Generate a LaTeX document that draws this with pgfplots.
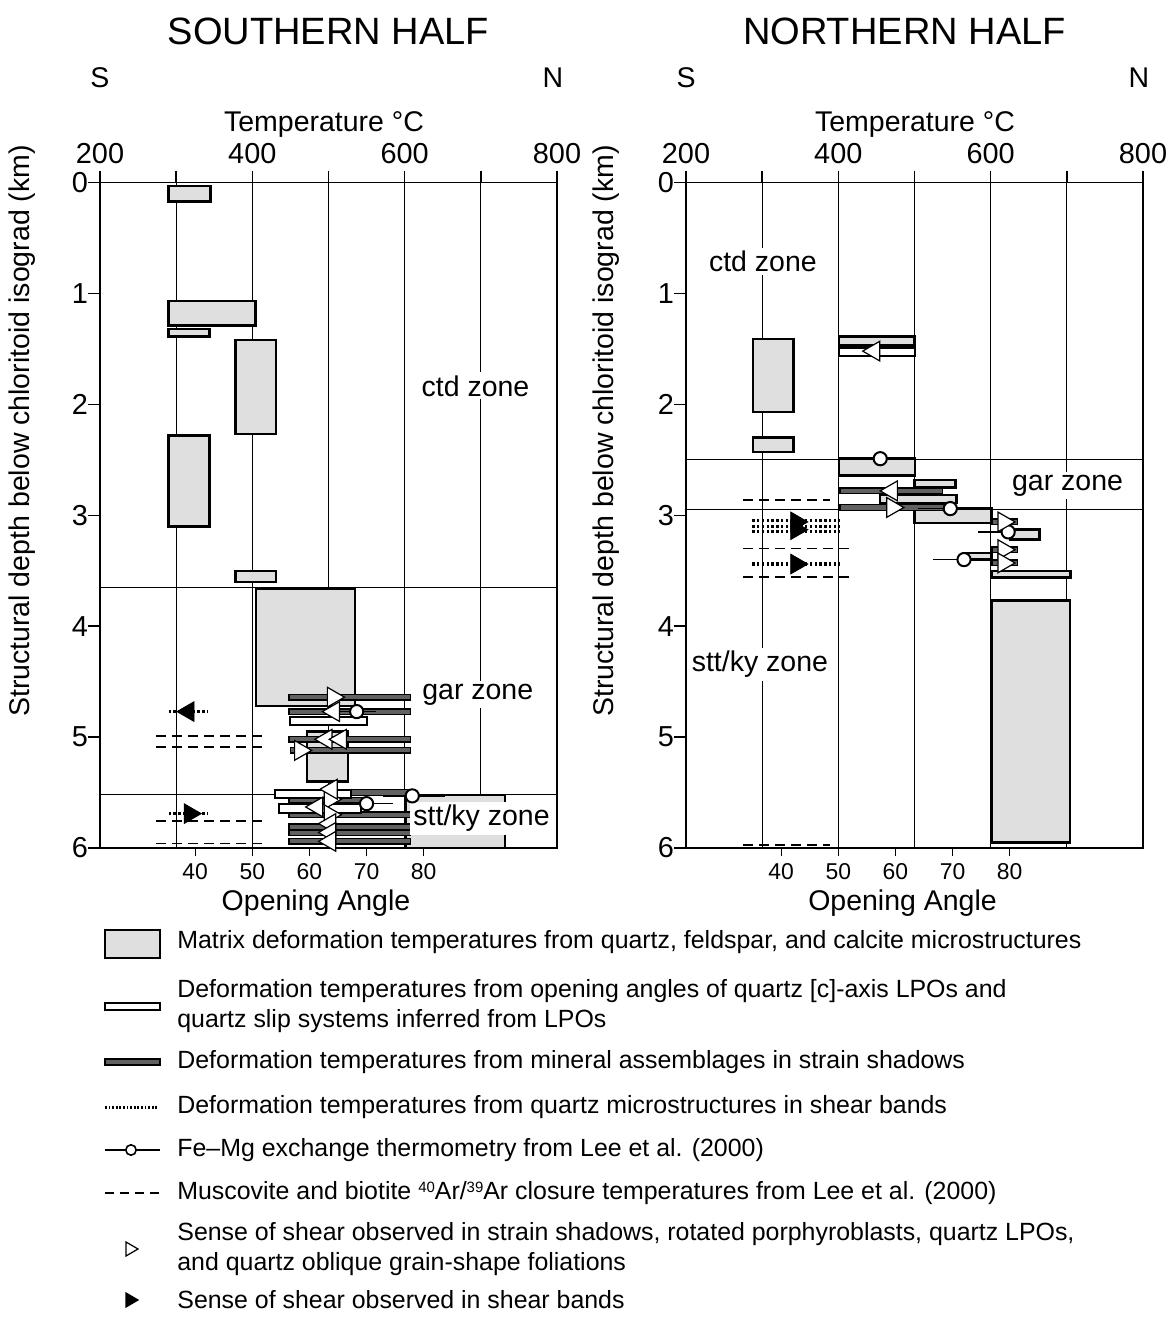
\documentclass[border=0pt]{standalone}
\usepackage{fontspec}
\setmainfont{Liberation Sans}
\usepackage{pgfplots}
\pgfplotsset{compat=1.18}

% one rectangle from its x and y limits
\newcommand{\rect}[5]{\addplot[#1] coordinates {(#2,#4) (#3,#4) (#3,#5) (#2,#5)} -- cycle;}

\tikzset{zonelabel/.style={fill=white, inner sep=1.5bp, anchor=base,
    font=\fontsize{14.3}{17}\selectfont}}

\pgfplotsset{
  panel/.style={
    scale only axis, width=228.5bp, height=332.75bp,
    xmin=200, xmax=800, ymin=0, ymax=6, y dir=reverse,
    xtick={200,300,...,800}, xticklabels={200,,400,,600,,800},
    ytick={0,1,...,6},
    xtick pos=right, xticklabel pos=right, ytick pos=left,
    tick align=outside, major tick length=6bp,
    xmajorgrids, grid style={black, line width=0.6bp},
    axis line style={black, line width=0.7bp},
    tick style={black, line width=0.7bp},
    /pgf/number format/assume math mode=true,
    ticklabel style={font=\fontsize{14.5}{17}\selectfont},
    yticklabel style={xshift=3.5bp},
  },
  angle/.style={
    scale only axis, width=228.5bp, height=332.75bp,
    xmin=200, xmax=800, ymin=0, ymax=1,
    xtick={325,400,475,550,625}, xticklabels={40,50,60,70,80},
    ytick=\empty, xtick pos=left, xticklabel pos=left,
    tick align=outside, major tick length=4bp,
    axis line style={draw=none},
    tick style={black, line width=0.7bp},
    xticklabel style={font=\fontsize{11.5}{14}\selectfont},
  },
  matrixbox/.style={draw=black, line width=1.2bp, fill=gray!25},
  lpobar/.style={draw=black, line width=1bp, fill=white},
  shadowbar/.style={draw=black, line width=0.7bp, fill=black!62},
  zoneline/.style={black, line width=0.7bp},
  arclose/.style={black, line width=0.9bp, dash pattern=on 5bp off 3bp},
  dotband/.style={black, line width=1.6bp, dash pattern=on 1.2bp off 1.2bp},
  femg/.style={only marks, mark=*, mark size=3.3bp,
    mark options={fill=white, draw=black, line width=1bp},
    error bars/x dir=both, error bars/x explicit, error bars/error mark=none,
    error bars/error bar style={black, line width=0.8bp}},
  senseR/.style={only marks, mark=triangle*, mark size=5.7bp,
    mark options={rotate=-90, fill=white, draw=black, line width=0.6bp}},
  senseL/.style={only marks, mark=triangle*, mark size=5.7bp,
    mark options={rotate=90, fill=white, draw=black, line width=0.6bp}},
  bandR/.style={only marks, mark=triangle*, mark size=5.7bp,
    mark options={rotate=-90, fill=black, draw=black}},
  bandL/.style={only marks, mark=triangle*, mark size=5.7bp,
    mark options={rotate=90, fill=black, draw=black}},
}

\begin{document}
\begin{tikzpicture}
\useasboundingbox (-50bp,-235.5bp) rectangle (533bp,424bp);

% ---------------- southern half ----------------
\begin{axis}[panel, at={(0,0)}]
\addplot[zoneline] coordinates {(200,3.65) (800,3.65)};
\addplot[zoneline] coordinates {(200,5.52) (800,5.52)};
% matrix deformation temperatures
\rect{matrixbox}{290}{345}{0.03}{0.17}
\rect{matrixbox}{290}{404}{1.07}{1.29}
\rect{matrixbox}{290}{344}{1.32}{1.39}
\rect{matrixbox}{378}{431}{1.42}{2.27}
\rect{matrixbox}{290}{344}{2.28}{3.10}
\rect{matrixbox}{378}{431}{3.50}{3.60}
\rect{matrixbox}{405}{535}{3.66}{4.72}
\rect{matrixbox}{472}{526}{4.95}{5.40}
\rect{matrixbox}{601}{732}{5.52}{6.00}
% Ar closure
\addplot[arclose] coordinates {(274,4.99) (419,4.99)};
\addplot[arclose] coordinates {(274,5.09) (419,5.09)};
\addplot[arclose] coordinates {(274,5.76) (419,5.76)};
\addplot[arclose] coordinates {(274,5.96) (419,5.96)};
% strain shadows
\rect{shadowbar}{448}{608}{4.615}{4.665}
\rect{shadowbar}{448}{608}{4.745}{4.795}
\rect{shadowbar}{448}{608}{4.995}{5.045}
\rect{shadowbar}{450}{608}{5.095}{5.145}
\rect{shadowbar}{448}{608}{5.475}{5.525}
\rect{shadowbar}{448}{545}{5.545}{5.595}
\rect{shadowbar}{448}{608}{5.675}{5.725}
\rect{shadowbar}{448}{608}{5.785}{5.835}
\rect{shadowbar}{448}{608}{5.838}{5.888}
\rect{shadowbar}{448}{608}{5.915}{5.965}
% opening angles
\rect{lpobar}{449}{550}{4.82}{4.89}
\rect{lpobar}{430}{529}{5.48}{5.55}
\rect{lpobar}{435}{543}{5.60}{5.68}
% shear bands
\addplot[dotband] coordinates {(290,4.77) (342,4.77)};
\addplot[dotband] coordinates {(290,5.69) (342,5.69)};
% Fe-Mg thermometry
\addplot[femg] coordinates {(537,4.77) +- (25,0) (610,5.53) += (43,0) -= (38,0) (550,5.60) += (35,0) -= (26,0)};
% sense of shear
\addplot[senseR] coordinates {(506,4.64) (463,5.12) (502,5.56) (502,5.70)};
\addplot[senseL] coordinates {(507,4.77) (497,5.02) (516,5.02) (504,5.47) (485,5.63) (502,5.78) (502,5.86) (502,5.94)};
\addplot[bandL] coordinates {(316,4.77)};
\addplot[bandR] coordinates {(318,5.69)};
\node[zonelabel] at (axis cs:693,1.925) {ctd zone};
\node[zonelabel] at (axis cs:696,4.66) {gar zone};
\node[zonelabel] at (axis cs:701,5.80) {stt/ky zone};
\end{axis}
\begin{axis}[angle, at={(0,0)}]
\end{axis}

% ---------------- northern half ----------------
\begin{axis}[panel, at={(293bp,0)}]
\addplot[zoneline] coordinates {(200,2.50) (800,2.50)};
\addplot[zoneline] coordinates {(200,2.95) (800,2.95)};
\rect{matrixbox}{288}{341}{1.41}{2.07}
\rect{matrixbox}{288}{341}{2.30}{2.43}
\rect{matrixbox}{401}{500}{1.39}{1.47}
\rect{matrixbox}{401}{501}{2.49}{2.64}
\rect{matrixbox}{500}{554}{2.68}{2.75}
\rect{matrixbox}{455}{555}{2.82}{2.89}
\rect{matrixbox}{500}{601}{2.94}{3.07}
\rect{matrixbox}{625}{664}{3.13}{3.22}
\rect{matrixbox}{564}{601}{3.34}{3.40}
\rect{matrixbox}{601}{705}{3.50}{3.56}
\rect{matrixbox}{601}{704}{3.77}{5.95}
\addplot[arclose] coordinates {(275,2.86) (389,2.86)};
\addplot[arclose] coordinates {(275,3.30) (419,3.30)};
\addplot[arclose] coordinates {(275,3.555) (419,3.555)};
\addplot[arclose] coordinates {(275,5.97) (389,5.97)};
\rect{shadowbar}{402}{537}{2.755}{2.805}
\rect{shadowbar}{402}{542}{2.905}{2.955}
\rect{shadowbar}{602}{635}{3.035}{3.085}
\rect{shadowbar}{602}{635}{3.285}{3.335}
\rect{shadowbar}{602}{635}{3.405}{3.455}
\rect{lpobar}{401}{500}{1.49}{1.56}
\addplot[dotband] coordinates {(287,3.05) (401,3.05)};
\addplot[dotband] coordinates {(287,3.10) (401,3.10)};
\addplot[dotband] coordinates {(287,3.15) (401,3.15)};
\addplot[dotband] coordinates {(287,3.44) (401,3.44)};
\addplot[femg] coordinates {(455,2.49) += (45,0) -= (47,0) (547,2.94) += (10,0) -= (42,0) (623,3.15) += (4,0) -= (40,0) (565,3.40) += (8,0) -= (41,0)};
\addplot[senseL] coordinates {(447,1.52) (470,2.78)};
\addplot[senseR] coordinates {(471,2.93) (617,3.06) (617,3.31) (617,3.43)};
\addplot[bandR] coordinates {(345,3.06) (345,3.13) (345,3.44)};
\node[zonelabel] at (axis cs:301,0.804) {ctd zone};
\node[zonelabel] at (axis cs:701,2.773) {gar zone};
\node[zonelabel] at (axis cs:297,4.41) {stt/ky zone};
\end{axis}
\begin{axis}[angle, at={(293bp,0)}]
\end{axis}

% ---------------- titles and labels ----------------
\begin{scope}[every node/.style={font=\fontsize{14.3}{17}\selectfont}]
\node[anchor=base, font=\fontsize{19.1}{22}\selectfont] at (114.25bp,401.5bp) {SOUTHERN HALF};
\node[anchor=base, font=\fontsize{19.1}{22}\selectfont] at (402.25bp,401.5bp) {NORTHERN HALF};
\node[anchor=base] at (0bp,380bp) {S};
\node[anchor=base] at (226.5bp,380bp) {N};
\node[anchor=base] at (293bp,380bp) {S};
\node[anchor=base] at (519.5bp,380bp) {N};
\node[anchor=base] at (112bp,358bp) {Temperature °C};
\node[anchor=base] at (407.5bp,358bp) {Temperature °C};
\node[rotate=90] at (-39bp,208.5bp) {Structural depth below chloritoid isograd (km)};
\node[rotate=90] at (253bp,208.5bp) {Structural depth below chloritoid isograd (km)};
\node[anchor=base] at (108bp,-31bp) {Opening Angle};
\node[anchor=base] at (401.25bp,-31bp) {Opening Angle};
\end{scope}

% ---------------- legend ----------------
\newcommand{\iso}[1]{\raisebox{0.55ex}{\fontsize{7.5}{8}\selectfont #1}}
\begin{scope}[every node/.style={anchor=west, align=left, inner sep=0pt,
    font=\fontsize{12.5}{15}\selectfont}]
\draw[line width=1.2bp, fill=gray!25] (2.5bp,-41bp) rectangle (30bp,-55bp);
\node at (38.5bp,-47bp) {Matrix deformation temperatures from quartz, feldspar, and calcite microstructures};
\draw[line width=1bp, fill=white] (2.5bp,-77.5bp) rectangle (30bp,-81bp);
\node at (38.5bp,-79bp) {Deformation temperatures from opening angles of quartz [c]-axis LPOs and\\quartz slip systems inferred from LPOs};
\draw[line width=0.7bp, fill=black!62] (2.5bp,-105.5bp) rectangle (30bp,-108.5bp);
\node at (38.5bp,-107bp) {Deformation temperatures from mineral assemblages in strain shadows};
\draw[line width=1.5bp, dash pattern=on 0.9bp off 0.9bp] (2.5bp,-129.5bp) -- (29bp,-129.5bp);
\node at (38.5bp,-129.5bp) {Deformation temperatures from quartz microstructures in shear bands};
\draw[line width=0.8bp] (2.5bp,-151bp) -- (30bp,-151bp);
\draw[line width=0.8bp, fill=white] (15.5bp,-151bp) circle (2.6bp);
\node at (38.5bp,-151bp) {Fe–Mg exchange thermometry from Lee et al. (2000)};
\draw[line width=0.9bp, dash pattern=on 4.5bp off 3bp] (2.5bp,-172.5bp) -- (30bp,-172.5bp);
\node at (38.5bp,-172.5bp) {Muscovite and biotite \iso{40}Ar/\iso{39}Ar closure temperatures from Lee et al. (2000)};
\draw[line width=0.6bp, fill=white] (13bp,-197bp) -- (19bp,-200.5bp) -- (13bp,-204bp) -- cycle;
\node at (38.5bp,-200.5bp) {Sense of shear observed in strain shadows, rotated porphyroblasts, quartz LPOs,\\and quartz oblique grain-shape foliations};
\draw[line width=0.6bp, fill=black] (13bp,-222.5bp) -- (19bp,-226bp) -- (13bp,-229.5bp) -- cycle;
\node at (38.5bp,-226bp) {Sense of shear observed in shear bands};
\end{scope}
\end{tikzpicture}
\end{document}
